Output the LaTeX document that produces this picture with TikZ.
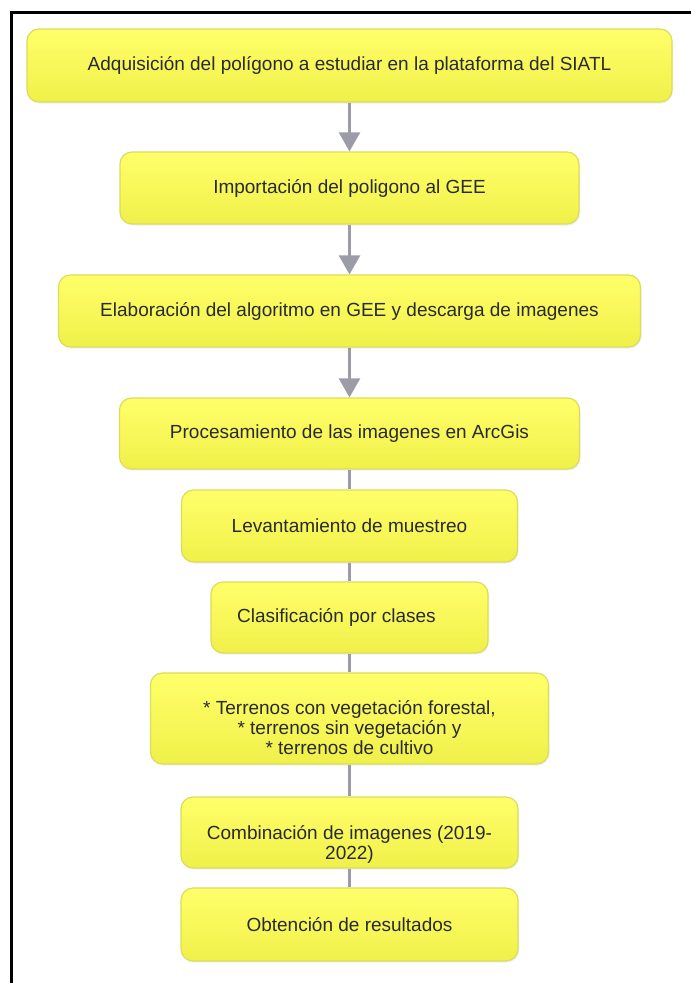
\documentclass[tikz,border=0pt]{standalone}
\usepackage{fontspec}
\setmainfont{Liberation Sans}
\usetikzlibrary{arrows.meta,shadows}

\definecolor{cajaarriba}{HTML}{FFFF6A}
\definecolor{cajaabajo}{HTML}{F0F04A}
\definecolor{cajaborde}{HTML}{DCDC5A}
\definecolor{lineagris}{HTML}{9C9CA8}
\definecolor{texto}{HTML}{2A2A2A}

\begin{document}
\begin{tikzpicture}[x=1pt,y=-1pt,
  paso/.style={draw=cajaborde, line width=1.2pt, rounded corners=12pt,
    top color=cajaarriba, bottom color=cajaabajo, inner sep=0pt,
    align=center, text=texto, font=\fontsize{19}{20}\selectfont,
    drop shadow={opacity=0.12, shadow xshift=1pt, shadow yshift=-1.5pt}},
  flecha/.style={draw=lineagris, line width=2.5pt,
    -{Triangle[width=21pt,length=19pt]}},
  enlace/.style={draw=lineagris, line width=2.5pt}]
  \useasboundingbox (0,0) rectangle (691,983);

  % Frame (top and left edges only)
  \draw[line width=3pt] (691,12.5) -- (11.5,12.5) -- (11.5,983);

  % Upper steps
  \node[paso, minimum width=645pt, minimum height=73pt] (adq) at (349.5,65.5)
    {Adquisición del polígono a estudiar en la plataforma del SIATL};
  \node[paso, minimum width=459pt, minimum height=72pt] (imp) at (349.5,188)
    {Importación del poligono al GEE};
  \node[paso, minimum width=582pt, minimum height=72pt] (ela) at (349.5,311)
    {Elaboración del algoritmo en GEE y descarga de imagenes};
  \node[paso, minimum width=460pt, minimum height=71pt] (pro) at (349.5,433.5)
    {Procesamiento de las imagenes en ArcGis};

  % Lower steps (the two-line texts sit low in their boxes)
  \node[paso, minimum width=336pt, minimum height=72pt] (lev) at (349.5,526)
    {Levantamiento de muestreo};
  \node[paso, minimum width=277pt, minimum height=71pt] (cla) at (349.5,617.5)
    {Clasificación por clases\hspace{26pt}};
  \node[paso, minimum width=398pt, minimum height=91pt] (ter) at (349.5,718.5)
    {\rule{0pt}{33pt}* Terrenos con vegetación forestal,\\
     * terrenos sin vegetación y\\
     * terrenos de cultivo};
  \node[paso, minimum width=337pt, minimum height=71pt] (com) at (349.5,832.5)
    {\rule{0pt}{38pt}Combinación de imagenes (2019-\\2022)};
  \node[paso, minimum width=337pt, minimum height=73pt] (obt) at (349.5,924.5)
    {Obtención de resultados};

  % Arrows between the first steps
  \draw[flecha] (adq) -- (imp);
  \draw[flecha] (imp) -- (ela);
  \draw[flecha] (ela) -- (pro);

  % Plain lines for the rest
  \draw[enlace] (pro) -- (lev);
  \draw[enlace] (lev) -- (cla);
  \draw[enlace] (cla) -- (ter);
  \draw[enlace] (ter) -- (com);
  \draw[enlace] (com) -- (obt);
\end{tikzpicture}
\end{document}
